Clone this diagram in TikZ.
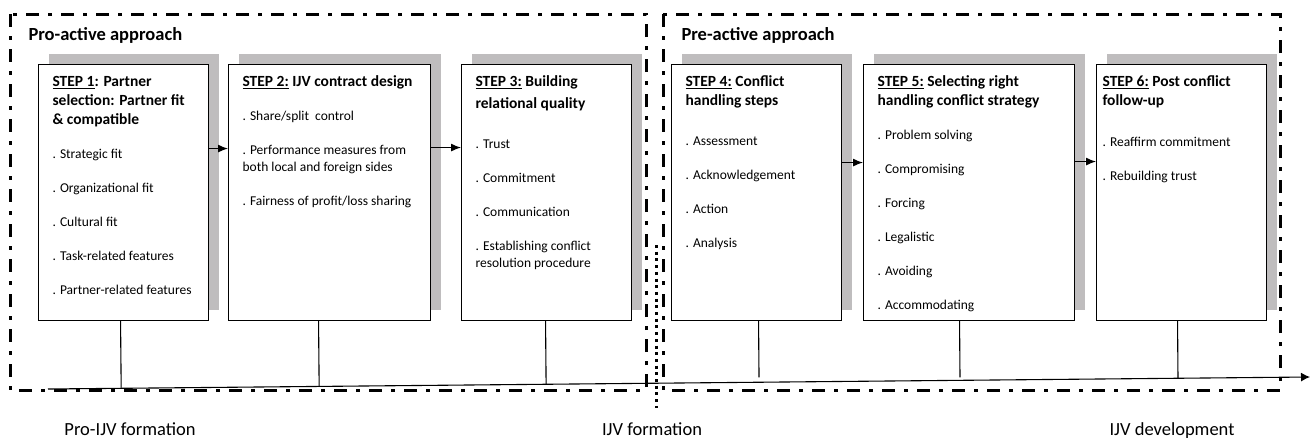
\documentclass[tikz,border=0pt]{standalone}
\usepackage{fontspec}
\setmainfont{Carlito}
\usetikzlibrary{arrows.meta,calc,shadows}
\definecolor{shadowgray}{RGB}{191,189,190}

% bold step heading, the "STEP n" part underlined
\newcommand{\steptitle}[2]{{\fontsize{15.5}{19}\selectfont\bfseries\strut\underline{#1}#2\par}}
% top-aligned text block of a step box
\newcommand{\stepnote}[2]{\parbox[t][238pt][t]{#1}{\raggedright\fontsize{13.5}{16.5}\selectfont\setlength{\parskip}{17.5pt}#2}}

\begin{document}
\begin{tikzpicture}[x=1pt,y=-1pt,
        zone/.style={line width=3pt, dash pattern=on 13pt off 9pt on 4pt off 9pt},
        stepbox/.style={draw, line width=1.1pt, fill=white, anchor=north west,
            inner xsep=14pt, inner ysep=9pt, minimum height=256pt,
            drop shadow={shadow xshift=10.5pt, shadow yshift=10.5pt, opacity=1, fill=shadowgray}},
        steparrow/.style={line width=1.1pt, -{Latex[length=10pt,width=8pt]}},
        dropline/.style={line width=1.1pt},
        zonelabel/.style={font=\fontsize{18.5}{22}\selectfont\bfseries, anchor=base west},
        phaselabel/.style={font=\fontsize{18.5}{22}\selectfont, anchor=base}]
    \useasboundingbox (0,0) rectangle (1315,439);

    % the two approaches
    \draw[zone] (10,14) rectangle (646,390);
    \draw[zone] (663,14) rectangle (1280,390);
    \draw[line width=3pt, dash pattern=on 3pt off 3.7pt] (656,245) -- (656,408);
    \node[zonelabel] (proactive) at (25,40.5) {Pro-active approach};
    \node[zonelabel] (preactive) at (678,40.5) {Pre-active approach};

    % steps
    \node[stepbox] (s1) at (38,64) {\stepnote{142pt}{%
        \steptitle{STEP 1}{: Partner\\ selection: Partner fit\\ \& compatible}
        . Strategic fit

        . Organizational fit

        . Cultural fit

        . Task-related features

        . Partner-related features}};
    \node[stepbox] (s2) at (228,64) {\stepnote{174pt}{%
        \steptitle{STEP 2:}{ IJV contract design}
        . Share/split\ \ control

        . Performance measures from\\ both local and foreign sides

        . Fairness of profit/loss sharing}};
    \node[stepbox] (s3) at (461,64) {\stepnote{142pt}{%
        \steptitle{STEP 3:}{ Building\\[3pt] relational quality}
        \vspace{6pt}
        . Trust

        . Commitment

        . Communication

        . Establishing conflict\\ resolution procedure}};
    \node[stepbox] (s4) at (671,64) {\stepnote{142pt}{%
        \steptitle{STEP 4:}{ Conflict\\ handling steps}
        \vspace{6pt}
        . Assessment

        . Acknowledgement

        . Action

        . Analysis}};
    \node[stepbox] (s5) at (863,64) {\stepnote{183pt}{%
        \steptitle{STEP 5:}{ Selecting right\\ handling conflict strategy}
        . Problem solving

        . Compromising

        . Forcing

        . Legalistic

        . Avoiding

        . Accommodating}};
    \node[stepbox, inner xsep=6pt] (s6) at (1096,64) {\stepnote{158pt}{%
        \steptitle{STEP 6:}{ Post conflict\\ follow-up}
        \vspace{7pt}
        . Reaffirm commitment

        . Rebuilding trust}};

    \draw[steparrow] ([yshift=44pt]s1.east) -- ([yshift=44pt]s2.west);
    \draw[steparrow] ([yshift=45pt]s2.east) -- ([yshift=45pt]s3.west);
    \draw[steparrow] ([yshift=30pt]s4.east) -- ([yshift=30pt]s5.west);
    \draw[steparrow] ([yshift=31pt]s5.east) -- ([yshift=31pt]s6.west);

    % time line
    \coordinate (tstart) at (48,389);
    \coordinate (tend) at (1310,377);
    \draw[line width=1.1pt, -{Latex[length=9pt,width=9pt]}] (tstart) -- (tend);
    \foreach \s/\dx/\cut in {s1/-3/0, s2/-11/0, s3/-1/0, s4/2/5, s5/-9.5/3, s6/-4/0} {
        \coordinate (top) at ([xshift=\dx pt]\s.south);
        \draw[dropline, shorten >=\cut pt] (top) -- ($(tstart)!(top)!(tend)$);
    }

    \node[phaselabel] (prophase) at (130,435) {Pro-IJV formation};
    \node[phaselabel] (formation) at (652,435) {IJV formation};
    \node[phaselabel] (development) at (1172,435) {IJV development};
\end{tikzpicture}
\end{document}
